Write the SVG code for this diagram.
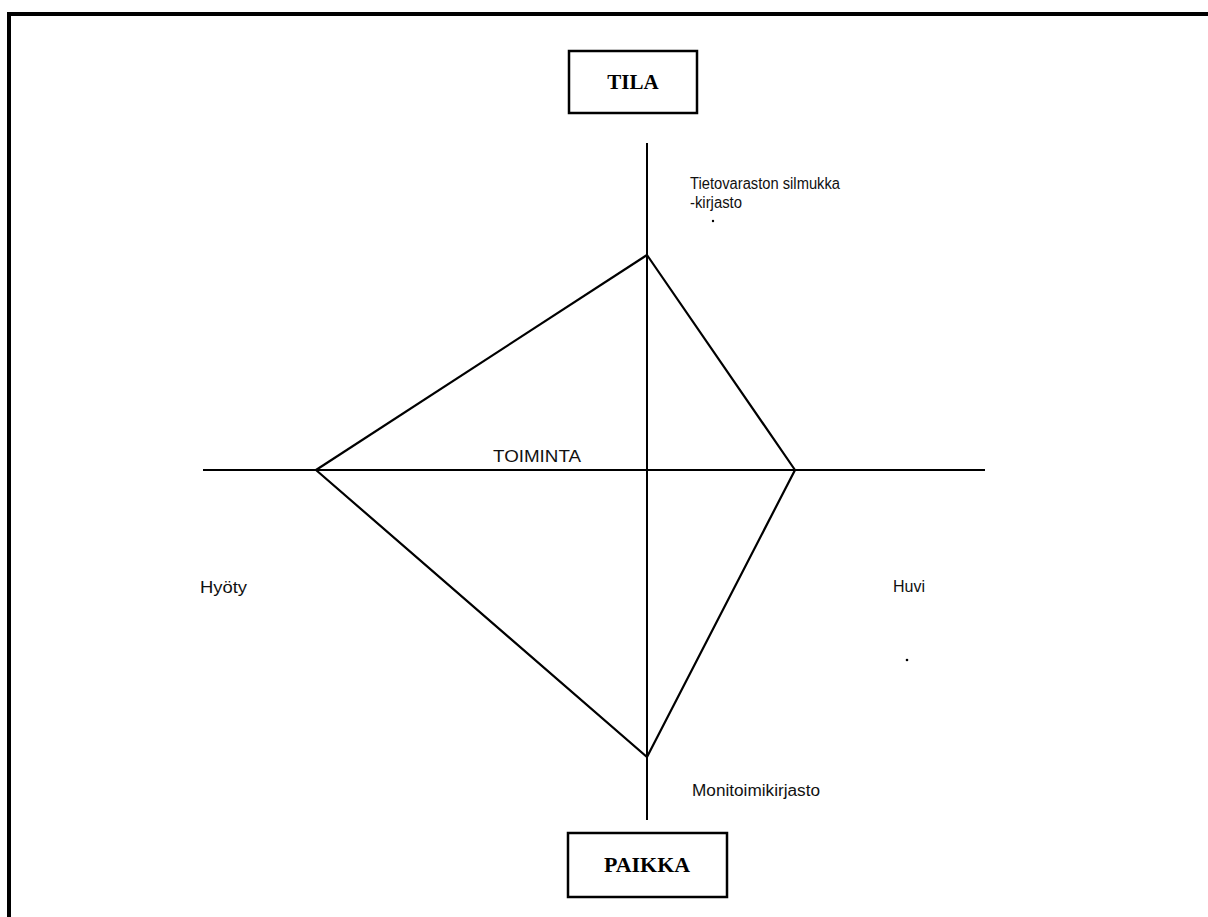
<svg xmlns="http://www.w3.org/2000/svg" width="1208" height="917" viewBox="0 0 1208 917">
<style>
.lbl{font-family:"Liberation Sans",Arial,sans-serif;font-size:16px;fill:#111}
.box{fill:#fff;stroke:#000;stroke-width:2.5}
.title{font-family:"Liberation Serif","Times New Roman",serif;font-size:21px;font-weight:bold;fill:#000;text-anchor:middle}
.ax{stroke:#000;stroke-width:2;fill:none}
.dm{stroke:#000;stroke-width:2.2;fill:none;stroke-linejoin:miter}
</style>
<rect width="1208" height="917" fill="#fff"/>
<g id="frame">
<line x1="7" y1="14" x2="1208" y2="14" stroke="#000" stroke-width="4"/>
<line x1="9" y1="12" x2="9" y2="917" stroke="#000" stroke-width="4"/>
</g>
<g id="connectors">
<line class="ax" x1="647" y1="143" x2="647" y2="820"/>
<line class="ax" x1="203" y1="470" x2="985" y2="470"/>
<path class="dm" d="M316,470 L647,255" stroke-width="3"/>
<path class="dm" d="M647,255 L795,470 L647,757 L316,470"/>
</g>
<g id="tila">
<rect class="box" x="569" y="51" width="128" height="62"/>
<text class="title" x="633" y="89">TILA</text>
</g>
<g id="paikka">
<rect class="box" x="568" y="833" width="159" height="64"/>
<text class="title" x="647" y="872" textLength="86" lengthAdjust="spacingAndGlyphs">PAIKKA</text>
</g>
<g id="labels">
<text class="lbl" x="690" y="189" textLength="150" lengthAdjust="spacingAndGlyphs">Tietovaraston silmukka</text>
<text class="lbl" x="690" y="208" textLength="52" lengthAdjust="spacingAndGlyphs">-kirjasto</text>
<circle cx="713" cy="221" r="1.2" fill="#000"/>
<text class="lbl" x="493" y="462" textLength="88" lengthAdjust="spacingAndGlyphs">TOIMINTA</text>
<text class="lbl" x="200" y="593" textLength="47" lengthAdjust="spacingAndGlyphs">Hyöty</text>
<text class="lbl" x="893" y="592" textLength="32" lengthAdjust="spacingAndGlyphs">Huvi</text>
<circle cx="907" cy="660" r="1.3" fill="#000"/>
<text class="lbl" x="692" y="796" textLength="128" lengthAdjust="spacingAndGlyphs">Monitoimikirjasto</text>
</g>
</svg>
